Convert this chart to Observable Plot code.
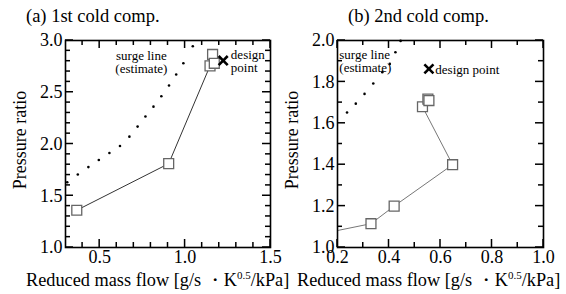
<!DOCTYPE html>
<html><head><meta charset="utf-8">
<script src="https://cdn.jsdelivr.net/npm/d3@7"></script>
<script src="https://cdn.jsdelivr.net/npm/@observablehq/plot@0.6"></script>
<style>
body{margin:0;background:#fff;}
#c{position:relative;width:566px;height:294px;font-family:"Liberation Serif","Times New Roman",serif;color:#000}
#row{display:flex;flex-direction:row}
.t{position:absolute;white-space:nowrap;line-height:1}
.yl{position:absolute;white-space:nowrap;line-height:1;font-size:18px;transform:translate(-50%,-50%) rotate(-90deg)}
.sup{font-size:11px;position:relative;top:-7px}
</style></head><body><div id="c"><div id="row"></div></div>
<script>
// ---- Panel (a) 1st cold comp. ----
const aTitle = "(a) 1st cold comp.";
const aMeasX = [0.366, 0.904, 1.146, 1.161, 1.171];
const aMeasY = [1.36, 1.81, 2.755, 2.865, 2.78];
const aLineX = [0.366, 0.904, 1.146];
const aLineY = [1.36, 1.81, 2.755];
const aSurgeX = [0.31, 0.372, 0.434, 0.495, 0.557, 0.619, 0.674, 0.722, 0.768, 0.815, 0.861, 0.906, 0.948, 0.99, 1.045];
const aSurgeY = [1.63, 1.706, 1.777, 1.845, 1.913, 1.981, 2.071, 2.168, 2.265, 2.361, 2.461, 2.565, 2.671, 2.78, 2.945];
const aDesignX = [1.223];
const aDesignY = [2.806];
const aXDomain = [0.3, 1.5];
const aYDomain = [1.0, 3.0];
const aXMajor = [0.5, 1.0, 1.5];
const aXMinor = [0.4, 0.6, 0.7, 0.8, 0.9, 1.1, 1.2, 1.3, 1.4];
const aYMajor = [1.0, 1.5, 2.0, 2.5, 3.0];
const aYMinor = [1.1, 1.2, 1.3, 1.4, 1.6, 1.7, 1.8, 1.9, 2.1, 2.2, 2.3, 2.4, 2.6, 2.7, 2.8, 2.9];
const aNotesMid = [{text: "surge line\n(estimate)", x: 0.744, y: 2.787}];
const aNotesStart = [{text: "design\npoint", x: 1.268, y: 2.797}];

// ---- Panel (b) 2nd cold comp. ----
const bTitle = "(b) 2nd cold comp.";
const bMeasX = [0.33, 0.42, 0.647, 0.53, 0.551, 0.555];
const bMeasY = [1.115, 1.20, 1.40, 1.68, 1.717, 1.71];
const bLineX = [0.2, 0.33, 0.42, 0.647, 0.53];
const bLineY = [1.082, 1.115, 1.20, 1.40, 1.68];
const bSurgeX = [0.237, 0.271, 0.305, 0.339, 0.374, 0.403, 0.425, 0.445];
const bSurgeY = [1.652, 1.695, 1.742, 1.792, 1.847, 1.887, 1.943, 1.998];
const bDesignX = [0.555];
const bDesignY = [1.863];
const bXDomain = [0.2, 1.0];
const bYDomain = [1.0, 2.0];
const bXMajor = [0.2, 0.4, 0.6, 0.8, 1.0];
const bXMinor = [0.3, 0.5, 0.7, 0.9];
const bYMajor = [1.0, 1.2, 1.4, 1.6, 1.8, 2.0];
const bYMinor = [1.1, 1.3, 1.5, 1.7, 1.9];
const bNotesMid = [];
const bNotesStart = [
  {text: "surge line\n(estimate)", x: 0.207, y: 1.899},
  {text: "design point", x: 0.58, y: 1.86}
];

const xLabelHTML = 'Reduced mass flow [g/s ・K<span class="sup">0.5</span>/kPa]';
const yLabel = "Pressure ratio";

const H = 294, MT = 40, MB = 47;

function pts(xs, ys) { return xs.map((x, i) => ({x, y: ys[i]})); }

function panel(o) {
  const fmt = d3.format(".1f");
  const noteStyle = {x: "x", y: "y", text: "text", fontSize: 13, lineHeight: 1.0, fill: "black", fontFamily: "'Liberation Serif', serif"};
  return Plot.plot({
    width: o.width, height: H,
    marginLeft: o.ml, marginRight: o.mr, marginTop: MT, marginBottom: MB,
    x: {domain: o.xDomain},
    y: {domain: o.yDomain},
    style: {fontFamily: "'Liberation Serif', 'Times New Roman', serif", fontSize: "18px"},
    marks: [
      Plot.line(pts(o.lineX, o.lineY), {x: "x", y: "y", stroke: o.lineColor, strokeWidth: 1, clip: true}),
      Plot.dot(pts(o.surgeX, o.surgeY), {x: "x", y: "y", r: 1.3, fill: "black", stroke: null}),
      Plot.dot(pts(o.measX, o.measY), {x: "x", y: "y", symbol: "square", r: 5.6, fill: "white", stroke: "#666", strokeWidth: 1.3}),
      Plot.dot(pts(o.designX, o.designY), {x: "x", y: "y", symbol: "times", r: 4.2, stroke: "black", strokeWidth: 2.6}),
      Plot.text(o.notesMid, {...noteStyle, textAnchor: "middle"}),
      Plot.text(o.notesStart, {...noteStyle, textAnchor: "start"}),
      Plot.axisX(o.xMajor, {anchor: "bottom", tickSize: 0, tickPadding: 3, tickFormat: fmt, label: null, fontSize: 18}),
      Plot.axisY(o.yMajor, {anchor: "left", tickSize: 0, tickPadding: 3, tickFormat: fmt, label: null, fontSize: 18}),
      Plot.frame({stroke: "black", strokeWidth: 1.6})
    ]
  });
}

// inward ticks on all four sides, placed with the plot's own x and y scales
function addTicks(svg, o) {
  const sx = svg.scale("x"), sy = svg.scale("y");
  const left = o.ml, right = o.width - o.mr, top = MT, bottom = H - MB;
  const g = d3.select(svg).append("g").attr("fill", "black");
  const w = 1.5;
  for (const [vals, len] of [[o.xMajor, 8], [o.xMinor, 5]]) {
    for (const v of vals) {
      const px = sx.apply(v);
      g.append("rect").attr("x", px - w / 2).attr("y", bottom - len).attr("width", w).attr("height", len);
      g.append("rect").attr("x", px - w / 2).attr("y", top).attr("width", w).attr("height", len);
    }
  }
  for (const [vals, len] of [[o.yMajor, 8], [o.yMinor, 5]]) {
    for (const v of vals) {
      const py = sy.apply(v);
      g.append("rect").attr("x", left).attr("y", py - w / 2).attr("width", len).attr("height", w);
      g.append("rect").attr("x", right - len).attr("y", py - w / 2).attr("width", len).attr("height", w);
    }
  }
}

const c = document.getElementById("c");
const row = document.getElementById("row");
const aOpts = {width: 283, ml: 65, mr: 13, xDomain: aXDomain, yDomain: aYDomain, xMajor: aXMajor, xMinor: aXMinor, yMajor: aYMajor, yMinor: aYMinor,
  measX: aMeasX, measY: aMeasY, lineX: aLineX, lineY: aLineY, surgeX: aSurgeX, surgeY: aSurgeY, designX: aDesignX, designY: aDesignY,
  notesMid: aNotesMid, notesStart: aNotesStart, lineColor: "#333"};
const bOpts = {width: 283, ml: 54, mr: 23, xDomain: bXDomain, yDomain: bYDomain, xMajor: bXMajor, xMinor: bXMinor, yMajor: bYMajor, yMinor: bYMinor,
  measX: bMeasX, measY: bMeasY, lineX: bLineX, lineY: bLineY, surgeX: bSurgeX, surgeY: bSurgeY, designX: bDesignX, designY: bDesignY,
  notesMid: bNotesMid, notesStart: bNotesStart, lineColor: "#777"};
const pa = panel(aOpts);
addTicks(pa, aOpts);
row.appendChild(pa);
const pb = panel(bOpts);
addTicks(pb, bOpts);
row.appendChild(pb);

function addText(html, cls, left, top, size) {
  const d = document.createElement("div");
  d.className = cls;
  d.innerHTML = html;
  d.style.left = left + "px";
  d.style.top = top + "px";
  if (size) d.style.fontSize = size + "px";
  c.appendChild(d);
  return d;
}
addText(aTitle, "t", 26, 7, 18.5);
addText(bTitle, "t", 348, 7, 18.5);
addText(xLabelHTML, "t", 26, 271, 18.3);
addText(xLabelHTML, "t", 297, 271, 18.3);
addText(yLabel, "yl", 20, 140);
addText(yLabel, "yl", 292, 140);
</script></body></html>
